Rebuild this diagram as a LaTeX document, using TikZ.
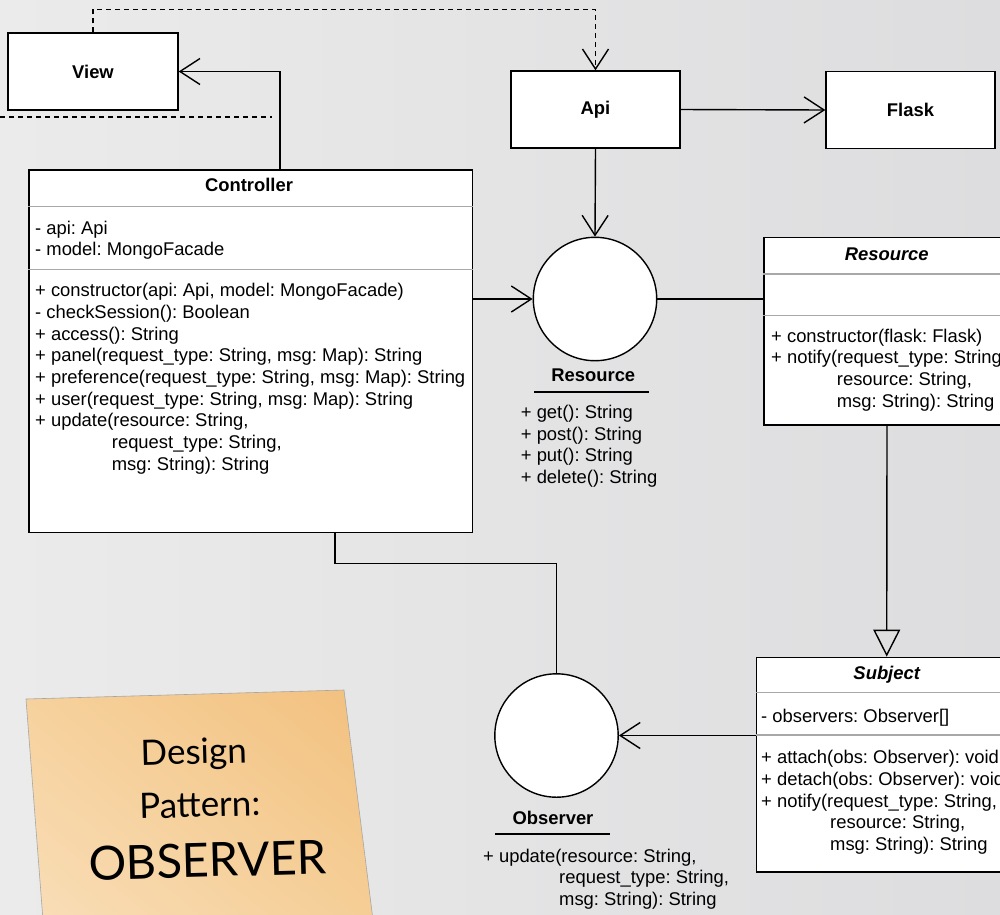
\documentclass[tikz,border=0pt]{standalone}
\usepackage{fontspec}
\setmainfont{Liberation Sans}
\newfontfamily\handfont{Lato}
\usetikzlibrary{arrows.meta,shadings}
\frenchspacing
\definecolor{bgA}{HTML}{EBEBEB}
\definecolor{bgB}{HTML}{DDDDDF}
\definecolor{sepgray}{HTML}{A8A8A8}
\definecolor{noteUL}{HTML}{F6D19C}
\definecolor{noteUR}{HTML}{F2C07E}
\definecolor{noteLL}{HTML}{F9DEB8}
\definecolor{noteLR}{HTML}{F5CE96}
\begin{document}
\begin{tikzpicture}[x=1pt,y=-1pt,
  box/.style={draw=black, line width=1.4pt, fill=white, inner sep=0pt},
  lbl/.style={font=\fontsize{18.4}{21.67}\selectfont\bfseries},
  ilbl/.style={font=\fontsize{18.4}{21.67}\selectfont\bfseries\itshape},
  txt/.style={anchor=base west, inner sep=0pt, font=\fontsize{18.4}{21.67}\selectfont},
  sepline/.style={draw=sepgray, line width=1.3pt},
  conn/.style={line width=1.4pt, draw=black},
  arr/.style={conn, -{Straight Barb[length=20pt,width=26pt]}},
  gen/.style={conn, -{Triangle[open,length=27pt,width=27pt]}},
  dashline/.style={conn, dash pattern=on 5pt off 4pt},
  hand/.style={inner sep=0pt, anchor=base, rotate=1.5}
]
\useasboundingbox (0,0) rectangle (1000,914);
\clip (0,0) rectangle (1000,914);
\shade[left color=bgA, right color=bgB] (0,0) rectangle (1000,914);

% sticky note
\shade[upper left=noteUL, upper right=noteUR, lower left=noteLL, lower right=noteLR]
  (26,699) -- (344,690) -- (373,920) -- (43,920) -- cycle;
\draw[gray!70, line width=0.6pt] (43,920) -- (26,699) -- (344,690) -- (373,920);
\node[hand, font=\handfont\fontsize{35}{40}\selectfont] (n1) at (194,764) {Design};
\node[hand, font=\handfont\fontsize{35}{40}\selectfont] (n2) at (200,817) {Pattern:};
\node[hand, font=\handfont\fontsize{47}{56}\selectfont] (n3) at (208,877) {OBSERVER};

% boxes
\node[box, minimum width=170, minimum height=77, lbl] (view) at (93,71.5) {View};
\node[box, minimum width=169, minimum height=77, lbl] (api) at (595.5,109.5) {Api};
\node[box, minimum width=169, minimum height=77, lbl] (flask) at (910.5,110) {Flask};
\node[box, minimum width=443.5, minimum height=362.7] (ctrl) at (250.75,351.35) {};
\node[box, minimum width=246, minimum height=187.5] (resbox) at (887,331.25) {};
\node[box, minimum width=260.4, minimum height=214.7] (subj) at (886.7,764.65) {};
\node[circle, draw=black, line width=1.4pt, fill=white, minimum size=123.4, inner sep=0pt] (rescirc) at (595,299) {};
\node[circle, draw=black, line width=1.4pt, fill=white, minimum size=123.4, inner sep=0pt] (obscirc) at (556.5,735.5) {};

% helper coordinates
\coordinate (xa) at (280,0);
\coordinate (xb) at (335,0);
\coordinate (ytop) at (0,9.5);
\coordinate (ymid) at (0,563.5);
\coordinate (d1) at (0,117);
\coordinate (d2) at (272,117);
\coordinate (s1) at (0,206.7);
\coordinate (s2) at (0,269.3);
\coordinate (s3) at (0,274);
\coordinate (s4) at (0,315.5);
\coordinate (s5) at (0,692.7);
\coordinate (s6) at (0,735);

% separators
\draw[sepline] (ctrl.west |- s1) -- (ctrl.east |- s1);
\draw[sepline] (ctrl.west |- s2) -- (ctrl.east |- s2);
\draw[sepline] (resbox.west |- s3) -- (resbox.east |- s3);
\draw[sepline] (resbox.west |- s4) -- (resbox.east |- s4);
\draw[sepline] (subj.west |- s5) -- (subj.east |- s5);
\draw[sepline] (subj.west |- s6) -- (subj.east |- s6);

% connectors
\draw[dashline] (d1) -- (d2);
\draw[dashline, -{Straight Barb[length=20pt,width=26pt]}] (view.north) -- (view.north |- ytop) -| (api.north);
\draw[arr] (xa |- ctrl.north) |- (view.east);
\draw[arr] (api.east) -- (flask.west);
\draw[arr] (api.south) -- (rescirc.north);
\draw[arr] (rescirc.west -| ctrl.east) -- (rescirc.west);
\draw[conn] (rescirc.east) -- (rescirc.east -| resbox.west);
\draw[gen] (resbox.south) -- (subj.north);
\draw[arr] (obscirc.east -| subj.west) -- (obscirc.east);
\draw[conn] (xb |- ctrl.south) -- (xb |- ymid) -| (obscirc.north);

% Controller text
\node[lbl, anchor=base, inner sep=0pt] (ctrlT) at (249,191.7) {Controller};
\foreach \x/\y/\t [count=\i] in {
  35/234/{- api: Api},
  35/255.7/{- model: MongoFacade},
  35/296.7/{+ constructor(api: Api, model: MongoFacade)},
  35/318.3/{- checkSession(): Boolean},
  35/340/{+ access(): String},
  35/361.7/{+ panel(request\_type: String, msg: Map): String},
  35/383.3/{+ preference(request\_type: String, msg: Map): String},
  35/405/{+ user(request\_type: String, msg: Map): String},
  35/426.7/{+ update(resource: String,},
  111.7/448.3/{request\_type: String,},
  111.7/470/{msg: String): String}}
  \node[txt] (ct\i) at (\x,\y) {\t};

% Resource interface
\node[lbl, anchor=base, inner sep=0pt] (resL) at (593.3,381) {Resource};
\draw[conn, line width=1.6pt] (534,391.7) -- (649,391.7);
\foreach \y/\t [count=\i] in {
  418.3/{+ get(): String},
  440/{+ post(): String},
  461.7/{+ put(): String},
  483.3/{+ delete(): String}}
  \node[txt] (ri\i) at (520.7,\y) {\t};

% Resource class
\node[ilbl, anchor=base, inner sep=0pt] (resT) at (886.7,260.5) {Resource};
\foreach \x/\y/\t [count=\i] in {
  771/342/{+ constructor(flask: Flask)},
  771/363.7/{+ notify(request\_type: String,},
  836.7/385.3/{resource: String,},
  836.7/407/{msg: String): String}}
  \node[txt] (rc\i) at (\x,\y) {\t};

% Subject
\node[ilbl, anchor=base, inner sep=0pt] (subT) at (886.7,679) {Subject};
\foreach \x/\y/\t [count=\i] in {
  761/722/{- observers: Observer[]},
  761/763.7/{+ attach(obs: Observer): void},
  761/785.3/{+ detach(obs: Observer): void},
  761/807/{+ notify(request\_type: String,},
  830/828.7/{resource: String,},
  830/850.3/{msg: String): String}}
  \node[txt] (sb\i) at (\x,\y) {\t};

% Observer interface
\node[lbl, anchor=base, inner sep=0pt] (obsL) at (553,824) {Observer};
\draw[conn, line width=1.6pt] (495,834) -- (610,834);
\foreach \x/\y/\t [count=\i] in {
  483/862/{+ update(resource: String,},
  559/883.7/{request\_type: String,},
  559/905.3/{msg: String): String}}
  \node[txt] (ob\i) at (\x,\y) {\t};
\end{tikzpicture}
\end{document}
